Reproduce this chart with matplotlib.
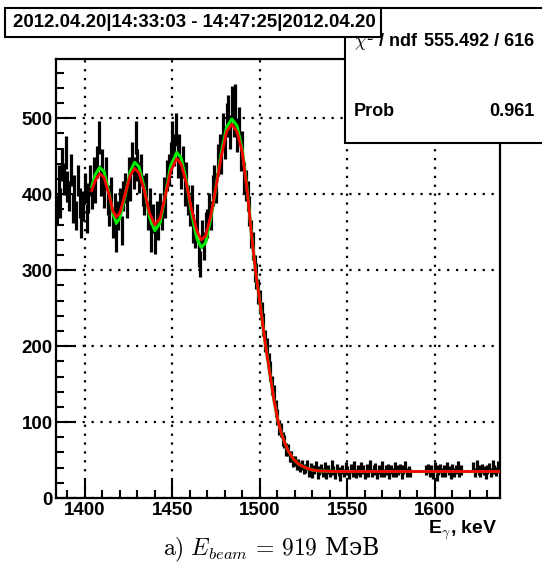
import numpy as np
import matplotlib as mpl
import matplotlib.pyplot as plt
from matplotlib.patches import Rectangle

mpl.rcParams['font.family'] = ['Liberation Sans', 'DejaVu Sans']
mpl.rcParams['mathtext.fontset'] = 'cm'

# histogram, 1 keV bins, first bin centre 1384 keV
e_first = 1384
counts_rise = [380, 418, 388, 438, 420, 455, 410, 398, 432, 382,
               405, 372, 418, 388, 362, 385, 408, 368, 395, 418]
counts_osc = [400, 428, 408, 442, 475, 418, 438, 402, 428, 392,
              378, 402, 362, 382, 342, 372, 388, 352, 398, 408,
              388, 428, 412, 448, 428, 475, 438, 422, 432, 405,
              392, 408, 372, 388, 342, 368, 340, 372, 358, 382,
              372, 402, 388, 425, 432, 448, 475, 458, 485, 442,
              458, 428, 442, 405, 422, 392, 378, 392, 355, 348,
              368, 322, 308, 348, 332, 358, 362, 382, 372, 405,
              418, 408, 445, 458, 448, 485, 468, 498, 508, 482,
              520, 498, 522, 478, 492, 452, 462, 422, 412, 398]
counts_edge = [378, 348, 332, 302, 292, 272, 258, 242, 228, 207,
               197, 178, 167, 148, 137, 118, 107, 93, 90, 78,
               74, 64, 63, 55, 55, 48, 49, 44, 45, 41,
               43, 38]
nan = np.nan
counts_tail = [39, 43, 34, 40, 32, 38, 42, 31, 36, 39,
               34, 41, 30, 38, 33, 43, 36, 31, 39, 35,
               28, 38, 33, 41, 36, 30, 39, 34, 42, 32,
               37, 33, 41, 38, 31, 39, 34, 43, 33, 37,
               40, 31, 38, 34, 42, 33, 37, 39, 30, 38,
               34, 41, 33, 37, 39, 31, 38, 42, 34, 36,
               33, nan, nan, nan, nan, nan, nan, nan, nan, 37,
               39, 33, 38, 31, 41, 28, 37, 39, 34, 38,
               33, 41, 36, 31, 39, 34, 38, 42, 33, 37,
               nan, nan, nan, nan, nan, nan, 41, 34, 43, 37,
               33, 39, 36, 31, 38, 40, 34, 44, 38, 35, 42]

# fit curves
fit_e = [1404, 1406, 1408.5, 1411, 1414, 1416, 1418, 1420, 1423, 1426,
         1428.5, 1431, 1434, 1437, 1440, 1443, 1446, 1449, 1452.5, 1455,
         1458, 1461, 1464, 1466.5, 1469, 1472, 1475, 1478, 1481, 1484,
         1487, 1490, 1493, 1495, 1497.5, 1500, 1503, 1506, 1508, 1510.5,
         1513, 1516, 1519, 1522, 1526, 1530, 1535, 1545, 1637]
fit_red = [405, 418, 427, 422, 398, 378, 370, 375, 400, 425,
           434, 428, 405, 375, 360, 368, 398, 430, 447, 440,
           415, 380, 352, 340, 345, 372, 410, 450, 482, 492,
           482, 455, 400, 352, 300, 258, 205, 160, 130, 100,
           80, 63, 52, 45, 40, 37, 35.5, 35, 35]
fit_green = [410, 426, 435, 430, 400, 375, 362, 368, 398, 430,
             442, 436, 408, 370, 352, 362, 398, 437, 455, 448,
             418, 375, 342, 330, 336, 368, 410, 455, 488, 499,
             490, 458, 402, 353, 300, 258, 205, 160, 130, 100,
             80, 63, 52, 45, 40, 37, 35.5, 35, 35]

counts = np.array(counts_rise + counts_osc + counts_edge + counts_tail, dtype=float)
energy = e_first + np.arange(len(counts))

fig = plt.figure(figsize=(5.42, 5.66), dpi=100)
ax = fig.add_axes([0.1028, 0.120, 0.8197, 0.7758])

ax.errorbar(energy, counts, yerr=np.sqrt(counts), xerr=0.5, fmt='none',
            ecolor='black', elinewidth=2.3, zorder=2)
ax.plot(fit_e, fit_green, color='#00ee00', lw=2.2, zorder=3)
ax.plot(fit_e, fit_red, color='#ff0000', lw=2.0, zorder=4)

ax.set_xlim(1383.4, 1637.2)
ax.set_ylim(0, 578)
ax.set_xticks([1400, 1450, 1500, 1550, 1600])
ax.set_xticks(np.arange(1390, 1640, 10), minor=True)
ax.set_yticks([0, 100, 200, 300, 400, 500])
ax.set_yticks(np.arange(0, 578, 20), minor=True)
ax.tick_params(which='both', direction='in', width=1.5, labelsize=13.5,
               top=False, right=False)
ax.tick_params(which='major', length=13)
ax.tick_params(which='minor', length=6)
for lab in ax.get_xticklabels() + ax.get_yticklabels():
    lab.set_fontweight('bold')
ax.tick_params(axis='x', pad=3)
ax.tick_params(axis='y', pad=2)
ax.grid(True, which='major', color='black', lw=1.6, linestyle=(0, (1, 3)))
for s in ax.spines.values():
    s.set_linewidth(1.6)

fig.text(498 / 542, 1 - 530 / 566, r'E$_{\gamma}$, keV', ha='right', va='center',
         fontsize=14, fontweight='bold')

# stats box
fig.patches.append(Rectangle((345 / 542, 1 - 143 / 566), 0.4, 135 / 566,
                             transform=fig.transFigure, facecolor='white',
                             edgecolor='black', lw=1.5, zorder=5))
fig.text(354 / 542, 1 - 42 / 566, r'$\chi^{2}$ / ndf', ha='left', va='center',
         fontsize=13, fontweight='bold', zorder=6)
fig.text(534 / 542, 1 - 42 / 566, '555.492 / 616', ha='right', va='center',
         fontsize=13, fontweight='bold', zorder=6)
fig.text(354 / 542, 1 - 111 / 566, 'Prob', ha='left', va='center',
         fontsize=13, fontweight='bold', zorder=6)
fig.text(534 / 542, 1 - 111 / 566, '0.961', ha='right', va='center',
         fontsize=13, fontweight='bold', zorder=6)

# title box
fig.patches.append(Rectangle((5 / 542, 1 - 37 / 566), 376 / 542, 29 / 566,
                             transform=fig.transFigure, facecolor='white',
                             edgecolor='black', lw=1.5, zorder=7))
fig.text(194 / 542, 1 - 22.5 / 566, '2012.04.20|14:33:03 - 14:47:25|2012.04.20',
         ha='center', va='center', fontsize=13.4, fontweight='bold', zorder=8)

fig.text(0.5, 1 - 550 / 566, r'$\mathrm{a)}\ E_{beam}\,=\,\mathrm{919}$ МэВ',
         ha='center', va='center', fontsize=17, family=['DejaVu Serif'])

fig.savefig('out.png', dpi=100)
